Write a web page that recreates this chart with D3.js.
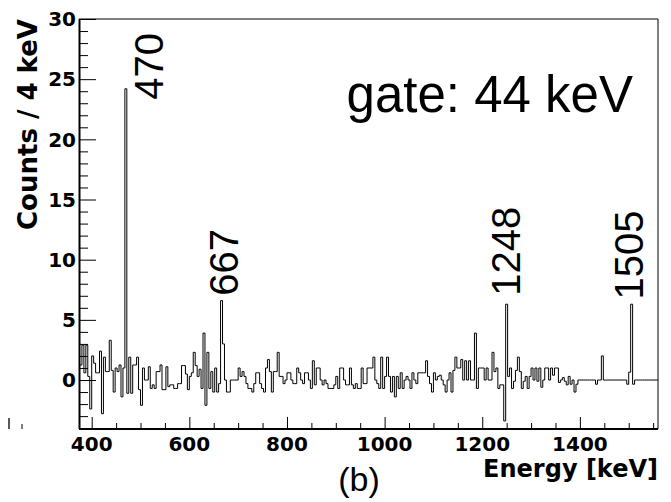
<!DOCTYPE html>
<html>
<head>
<meta charset="utf-8">
<script src="https://cdn.jsdelivr.net/npm/d3@7"></script>
<style>
  html, body { margin: 0; padding: 0; background: #fff; }
  svg { display: block; }
</style>
</head>
<body>
<svg id="chart" width="671" height="502"></svg>
<script>
// ---- data ----
const binStart = 376;      // keV, lower edge of first bin
const binWidth = 4;        // keV per bin
const counts = [
  1.25, 2.9, 0.6, 2.9, 0.3, -2.4, 2.0, 1.4, 0.6, 0.6,
  2.4, -2.8, 1.9, 0.7, 0.7, 3.3, 0.8, -1.0, 1.0, 0.7,
  1.25, -1.4, 1.0, 24.2, -1.1, 1.9, -1.1, 1.25, 1.25, 1.9,
  -0.8, -2.1, 1.0, 0, 0, 1.1, -0.7, -0.4, -0.7, 0.7,
  0.7, 1.25, -0.8, -0.8, 1.1, -0.55, -0.4, -0.4, -0.7, -0.7,
  -0.3, -0.3, 1.2, 1.2, 0.5, -0.8, 0.3, 0.6, 2.3, 1.2,
  0.3, 0.9, -0.7, 3.9, -2.1, 2.3, -0.7, 0.7, -1.0, 1.0,
  -1.0, -0.3, 6.6, 3.0, 0, -1.0, -1.0, 0, 0, 0,
  0, 1.0, 0.3, 0.7, 0.3, -0.3, -0.7, -0.7, -1.0, -0.3,
  0.6, 0.6, -0.3, -0.7, -1.0, 1.0, 1.7, 0.7, -1.0, 0.7,
  0.7, 2.3, 0.3, 0.3, -0.3, 0, 0.6, 0.6, 0, -0.3,
  -0.3, 1.0, 0.6, 0, -0.3, 0.6, 0.6, 0, -0.7, 1.6,
  -0.4, 1.0, 1.0, 0, -0.4, 0, -0.3, -0.7, -0.7, -0.7,
  -0.4, 0.3, -0.7, 1.0, 1.0, 0, -0.4, -0.4, 1.0, -0.4,
  -0.7, -0.3, -0.7, -0.7, 1.0, -0.3, -0.3, 1.0, 1.0, 1.0,
  1.9, 0, -0.3, -0.7, 1.9, -0.7, 0.3, 1.9, 0.3, -1.0,
  0.3, -1.4, 0.3, -0.7, 0.6, -0.7, 0, 0.3, 0, -0.7,
  0.6, 0, -0.3, 0.6, 0.6, 0.6, 0.6, 1.6, 0.3, -0.3,
  -1.0, 0.6, 0, 0.3, 0.4, 0, -0.4, -1.0, 0, 0.6,
  -1.0, 0.8, 1.9, 1.0, 1.0, 1.7, 0, 1.6, 0, 1.6,
  0, 0, 3.9, -0.7, 1.0, 1.0, 1.0, 0, 1.0, 0,
  0, 2.3, 0.7, 1.0, -0.7, -0.4, -0.4, -3.4, 6.3, 0.3,
  1.0, -0.7, -0.1, 0.8, 1.9, 0.7, -0.7, -0.1, 0.3, -0.7,
  0.3, 1.0, 0, 1.0, -0.1, 1.0, -0.6, 0, 1.0, 1.0,
  0, 1.0, 0.4, 1.0, 1.0, -0.2, 0, 0.2, -0.1, -0.4,
  0.3, -0.35, 0, -1.0, -0.35, 0, 0, 0, 0, 0,
  0, 0, 0, 0, -0.35, 0, 0, 2.0, 0, 0,
  0, 0, 0, 0, 0, 0, 0, 0, 0, 0,
  -0.35, 0.65, 6.3, -0.35, 0, 0, 0, 0, 0, 0,
  0, 0, 0, 0, 0, 0, 0
];
const xDomain = [374, 1560];
const yDomain = [-4.07, 30];
const xMajorTicks = [400, 600, 800, 1000, 1200, 1400];
const yMajorTicks = [0, 5, 10, 15, 20, 25, 30];
const peakLabels = ["470", "667", "1248", "1505"];
const peakLabelE = [546, 700, 1277, 1529];   // keV position of label baseline
const peakLabelV = [23.3, 7.0, 7.0, 6.7];    // counts at label start
const gateText = "gate: 44 keV";
const xTitle = "Energy [keV]";
const yTitle = "Counts / 4 keV";
const panelTag = "(b)";

// ---- layout ----
const svg = d3.select("#chart");
const L = 79, R = 658, T = 19, B = 429;
const x = d3.scaleLinear().domain(xDomain).range([L, R]);
const y = d3.scaleLinear().domain(yDomain).range([B, T]);
const boldFont = "'DejaVu Sans', sans-serif";
const plainFont = "'Liberation Sans', Arial, sans-serif";

// frame top/right
svg.append("line").attr("x1", L).attr("x2", R).attr("y1", T).attr("y2", T)
  .attr("stroke", "#000").attr("stroke-width", 1);
svg.append("line").attr("x1", R).attr("x2", R).attr("y1", T).attr("y2", B)
  .attr("stroke", "#000").attr("stroke-width", 1);

// histogram
const pts = counts.map((v, i) => ({ e: binStart + i * binWidth, v }));
pts.push({ e: binStart + counts.length * binWidth, v: counts[counts.length - 1] });
const line = d3.line().x(d => x(Math.min(d.e, xDomain[1]))).y(d => y(d.v)).curve(d3.curveStepAfter);
svg.append("path").datum(pts).attr("d", line)
  .attr("fill", "none").attr("stroke", "#000").attr("stroke-width", 1);

// y axis (ticks inward)
const yMinor = d3.range(-4, 31, 1).filter(v => v % 5 !== 0);
const yAxisMajor = d3.axisRight(y).tickValues(yMajorTicks).tickSize(17).tickFormat("");
const yAxisMinor = d3.axisRight(y).tickValues(yMinor).tickSize(9).tickFormat("");
svg.append("g").attr("transform", `translate(${L},0)`).call(yAxisMinor)
  .call(g => g.select(".domain").remove());
const gy = svg.append("g").attr("transform", `translate(${L},0)`).call(yAxisMajor);
gy.select(".domain").attr("stroke-width", 2).attr("d", `M0.5,${T}V${B}`);
svg.selectAll(".tick line").attr("stroke", "#000");
svg.append("g").selectAll("text").data(yMajorTicks).join("text")
  .attr("x", L - 3).attr("y", d => y(d)).attr("dy", "0.36em")
  .attr("text-anchor", "end").attr("font-family", boldFont).attr("font-weight", "bold")
  .attr("font-size", 20).text(d => d);

// x axis (ticks inward)
const xMinor = d3.range(400, 1560, 50).filter(v => v % 200 !== 0);
const xAxisMajor = d3.axisTop(x).tickValues(xMajorTicks).tickSize(12).tickFormat("");
const xAxisMinor = d3.axisTop(x).tickValues(xMinor).tickSize(6).tickFormat("");
svg.append("g").attr("transform", `translate(0,${B})`).call(xAxisMinor)
  .call(g => g.select(".domain").remove());
const gx = svg.append("g").attr("transform", `translate(0,${B})`).call(xAxisMajor);
gx.select(".domain").attr("stroke-width", 2.2).attr("d", `M${L},0H${R}`);
svg.selectAll(".tick line").attr("stroke", "#000");
svg.append("g").selectAll("text").data(xMajorTicks).join("text")
  .attr("x", d => x(d)).attr("y", B + 22)
  .attr("text-anchor", "middle").attr("font-family", boldFont).attr("font-weight", "bold")
  .attr("font-size", 20).text(d => d);

// axis titles
svg.append("text").attr("x", R).attr("y", 477)
  .attr("text-anchor", "end").attr("font-family", boldFont).attr("font-weight", "bold")
  .attr("font-size", 24).text(xTitle);
svg.append("text").attr("transform", `translate(37,230) rotate(-90)`)
  .attr("text-anchor", "start").attr("font-family", boldFont).attr("font-weight", "bold")
  .attr("font-size", 26).text(yTitle);

// peak labels
svg.append("g").selectAll("text").data(peakLabels).join("text")
  .attr("transform", (d, i) => `translate(${x(peakLabelE[i])},${y(peakLabelV[i])}) rotate(-90)`)
  .attr("font-family", plainFont).attr("font-size", 40).text(d => d);

// gate annotation
svg.append("text").attr("x", 633).attr("y", 112).attr("text-anchor", "end")
  .attr("font-family", plainFont).attr("font-size", 51).text(gateText);

// panel tag
svg.append("text").attr("x", 359).attr("y", 491).attr("text-anchor", "middle")
  .attr("font-family", plainFont).attr("font-size", 34).text(panelTag);

// small stray marks at lower left
svg.append("line").attr("x1", 9).attr("x2", 9).attr("y1", 418).attr("y2", 429)
  .attr("stroke", "#000").attr("stroke-width", 1.3);
svg.append("line").attr("x1", 22).attr("x2", 22).attr("y1", 424).attr("y2", 429)
  .attr("stroke", "#000").attr("stroke-width", 1);
</script>
</body>
</html>
